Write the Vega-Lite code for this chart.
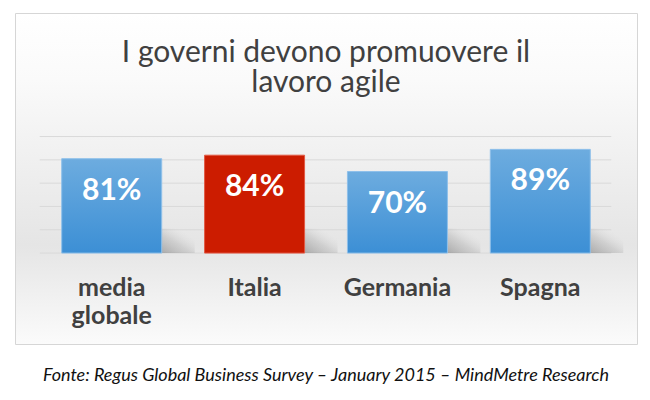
{
  "$schema": "https://vega.github.io/schema/vega-lite/v6.json",
  "width": 622,
  "height": 331,
  "padding": {"left": 15, "top": 13, "right": 13, "bottom": 5},
  "background": "#ffffff",
  "title": {
    "text": "Fonte: Regus Global Business Survey – January 2015 – MindMetre Research",
    "orient": "bottom",
    "anchor": "middle",
    "frame": "group",
    "offset": 23,
    "font": "Lato",
    "fontSize": 18,
    "fontStyle": "italic",
    "fontWeight": "normal",
    "color": "#111111"
  },
  "datasets": {
    "paesi": [
      {"paese": "media globale", "valore": 0.81, "evidenza": false},
      {"paese": "Italia", "valore": 0.84, "evidenza": true},
      {"paese": "Germania", "valore": 0.70, "evidenza": false},
      {"paese": "Spagna", "valore": 0.89, "evidenza": false}
    ],
    "griglia": [
      {"livello": 0},
      {"livello": 0.2},
      {"livello": 0.4},
      {"livello": 0.6},
      {"livello": 0.8},
      {"livello": 1.0}
    ]
  },
  "layer": [
    {
      "data": {"name": "griglia"},
      "mark": {"type": "rule", "color": "#d9d9d9", "strokeWidth": 1},
      "encoding": {
        "y": {"field": "livello", "type": "quantitative", "scale": {"domain": [-0.78, 2.06], "nice": false, "zero": false}, "axis": null},
        "x": {"datum": "media globale", "type": "nominal", "bandPosition": -0.22},
        "x2": {"datum": "Spagna", "bandPosition": 1.21}
      }
    },
    {
      "data": {"name": "paesi"},
      "mark": {
        "type": "bar",
        "xOffset": 66,
        "width": 34,
        "fill": {
          "gradient": "linear", "x1": 0, "y1": 0.9, "x2": 0.8, "y2": 0,
          "stops": [
            {"offset": 0, "color": "rgba(105,105,105,0.45)"},
            {"offset": 0.45, "color": "rgba(130,130,130,0.22)"},
            {"offset": 0.85, "color": "rgba(200,200,200,0)"}
          ]
        }
      },
      "encoding": {
        "x": {"field": "paese", "type": "nominal", "sort": null},
        "y": {"datum": 0.21, "type": "quantitative"},
        "y2": {"datum": 0}
      }
    },
    {
      "data": {"name": "paesi"},
      "transform": [{"filter": "!datum.evidenza"}],
      "mark": {
        "type": "bar",
        "stroke": "#8fc0ea",
        "strokeWidth": 1,
        "fill": {
          "gradient": "linear", "x1": 0, "y1": 0, "x2": 0, "y2": 1,
          "stops": [
            {"offset": 0, "color": "#6dacdf"},
            {"offset": 1, "color": "#3c8fd5"}
          ]
        }
      },
      "encoding": {
        "x": {
          "field": "paese",
          "type": "nominal",
          "sort": null,
          "scale": {"domain": ["media globale", "Italia", "Germania", "Spagna"], "paddingInner": 0.3, "paddingOuter": 0.327},
          "axis": {
            "title": null,
            "orient": "bottom",
            "offset": -91,
            "bandPosition": 0.5,
            "domain": false,
            "ticks": false,
            "tickSize": 0,
            "grid": false,
            "labelPadding": 34,
            "labelAngle": 0,
            "labelAlign": "center",
            "labelFont": "Lato",
            "labelFontSize": 25,
            "labelFontWeight": "bold",
            "labelColor": "#404040",
            "labelLineHeight": 28,
            "labelOverlap": false,
            "labelExpr": "split(datum.label, ' ')"
          }
        },
        "y": {"field": "valore", "type": "quantitative"}
      }
    },
    {
      "data": {"name": "paesi"},
      "transform": [{"filter": "datum.evidenza"}],
      "mark": {"type": "bar", "fill": "#cc1c00", "stroke": "#e25a45", "strokeWidth": 1},
      "encoding": {
        "x": {"field": "paese", "type": "nominal", "sort": null},
        "y": {"field": "valore", "type": "quantitative"}
      }
    },
    {
      "data": {"name": "paesi"},
      "mark": {"type": "text", "dy": 32, "baseline": "middle", "align": "center", "font": "Lato", "fontSize": 30, "fontWeight": "bold", "color": "#ffffff"},
      "encoding": {
        "x": {"field": "paese", "type": "nominal", "sort": null},
        "y": {"field": "valore", "type": "quantitative"},
        "text": {"field": "valore", "type": "quantitative", "format": ".0%"}
      }
    },
    {
      "data": {"values": [{}]},
      "mark": {
        "type": "text",
        "text": ["I governi devono promuovere il", "lavoro agile"],
        "align": "center",
        "baseline": "alphabetic",
        "lineHeight": 30,
        "font": "Lato",
        "fontSize": 30,
        "fontWeight": "normal",
        "color": "#404040"
      },
      "encoding": {
        "y": {"datum": 1.64, "type": "quantitative"}
      }
    }
  ],
  "config": {
    "view": {
      "stroke": "#d6d6d6",
      "strokeWidth": 1,
      "fill": {
        "gradient": "linear", "x1": 0, "y1": 0, "x2": 0, "y2": 1,
        "stops": [
          {"offset": 0, "color": "#ffffff"},
          {"offset": 0.2, "color": "#fafafa"},
          {"offset": 0.7, "color": "#e5e5e5"},
          {"offset": 1, "color": "#fbfbfb"}
        ]
      }
    }
  }
}
